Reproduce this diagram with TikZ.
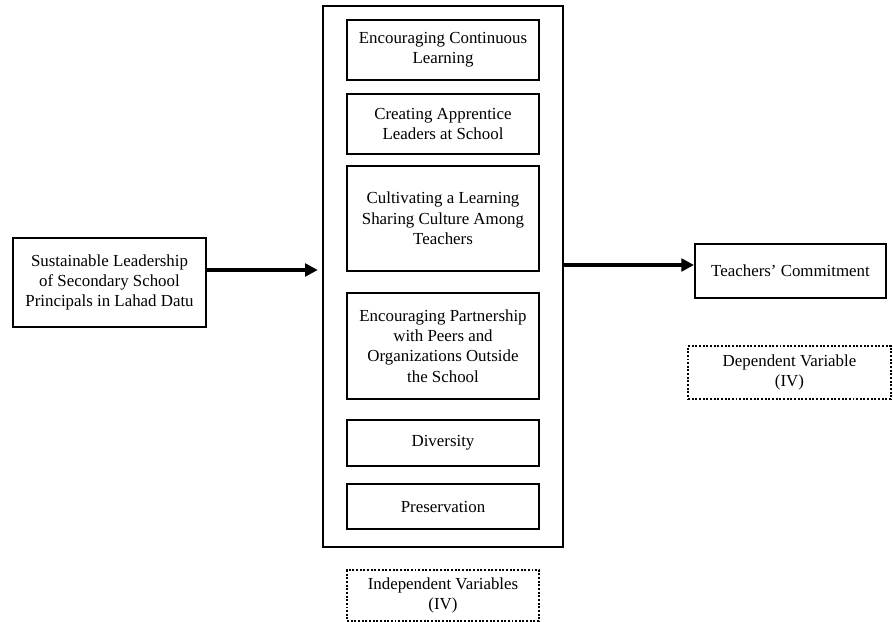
\documentclass[tikz,border=0pt]{standalone}
\usepackage{fontspec}
\setmainfont{Liberation Serif}
\usetikzlibrary{arrows.meta}
\begin{document}
\begin{tikzpicture}[x=0.025cm,y=-0.025cm,
	box/.style={draw,line width=1.4pt,align=center,inner sep=0pt,font=\fontsize{12}{14.5}\selectfont},
	dotbox/.style={box,line width=1.5pt,dash pattern=on 1.4pt off 1.2pt},
	arr/.style={line width=2.4pt,-{Triangle[length=9pt,width=9pt]}}]
	\useasboundingbox (0,0) rectangle (893,622);
	% left and right
	\node[box,minimum width=4.825cm,minimum height=2.225cm] (lead) at (109.5,282.5) {Sustainable Leadership\\of Secondary School\\Principals in Lahad Datu};
	\node[box,minimum width=4.775cm,minimum height=1.35cm] (comm) at (790.5,271) {Teachers' Commitment};
	\node[dotbox,minimum width=5.075cm,minimum height=1.325cm] (dv) at (789.5,372.5) {Dependent Variable\\(IV)};
	% middle column
	\node[box,minimum width=6cm,minimum height=13.525cm] (outer) at (443,276.5) {};
	\node[box,minimum width=4.8cm,minimum height=1.5cm] (b1) at (443,50) {Encouraging Continuous\\Learning};
	\node[box,minimum width=4.8cm,minimum height=1.5cm] (b2) at (443,124) {Creating Apprentice\\Leaders at School};
	\node[box,minimum width=4.8cm,minimum height=2.625cm] (b3) at (443,218.5) {Cultivating a Learning\\Sharing Culture Among\\Teachers};
	\node[box,minimum width=4.8cm,minimum height=2.65cm] (b4) at (443,346) {Encouraging Partnership\\with Peers and\\Organizations Outside\\the School};
	\node[box,minimum width=4.8cm,minimum height=1.15cm] (b5) at (443,443) {Diversity};
	\node[box,minimum width=4.8cm,minimum height=1.125cm] (b6) at (443,506.5) {Preservation};
	\node[dotbox,minimum width=4.8cm,minimum height=1.275cm] (iv) at (443,595.5) {Independent Variables\\(IV)};
	% arrows
	\coordinate (y1) at (0,270);
	\coordinate (y2) at (0,265);
	\draw[arr] (lead.east |- y1) -- ([xshift=-3pt]outer.west |- y1);
	\draw[arr] (outer.east |- y2) -- (comm.west |- y2);
\end{tikzpicture}
\end{document}
